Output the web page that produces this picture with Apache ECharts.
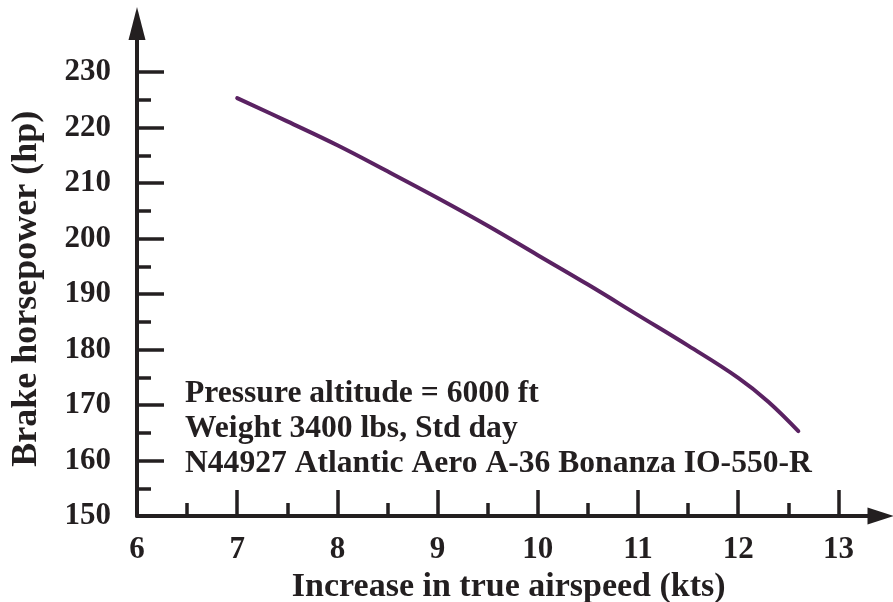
<!DOCTYPE html>
<html>
<head>
<meta charset="utf-8">
<script src="https://cdn.jsdelivr.net/npm/echarts@6/dist/echarts.min.js"></script>
<style>html,body{margin:0;padding:0;background:#fff}#c{width:893px;height:602px}</style>
</head>
<body>
<div id="c"></div>
<script>
var airspeed = [7.0, 7.5, 8.0, 8.5, 9.0, 9.5, 10.0, 10.5, 11.0, 11.5, 12.0, 12.3, 12.6];
var horsepower = [225.3, 221.1, 216.8, 212.1, 207.3, 202.3, 197.0, 191.7, 186.2, 180.7, 174.9, 170.6, 165.3];
var xMajorTicks = [6, 7, 8, 9, 10, 11, 12, 13];
var xMinorTicks = [6.5, 7.5, 8.5, 9.5, 10.5, 11.5, 12.5];
var yMajorTicks = [150, 160, 170, 180, 190, 200, 210, 220, 230];
var yMinorTicks = [155, 165, 175, 185, 195, 205, 215, 225];
var notes = ['Pressure altitude = 6000 ft', 'Weight 3400 lbs, Std day', 'N44927 Atlantic Aero A-36 Bonanza IO-550-R'];
var xName = 'Increase in true airspeed (kts)';
var yName = 'Brake horsepower (hp)';

var ink = '#231f20';
var font = 'Liberation Serif';
var X_MIN = 6, X_MAX = 13.42, Y_MIN = 150, Y_MAX = 238.74;

var chart = echarts.init(document.getElementById('c'));
chart.setOption({
  animation: false,
  backgroundColor: '#fff',
  title: {
    text: notes.join('\n'),
    left: 180, top: 371,
    textStyle: {fontFamily: font, fontWeight: 'bold', fontSize: 31.6, lineHeight: 35, color: ink}
  },
  grid: {left: 137, right: 12.5, top: 23.5, bottom: 86, containLabel: false, outerBoundsMode: 'none'},
  xAxis: [{
    type: 'value', min: X_MIN, max: X_MAX,
    name: xName, nameLocation: 'middle', nameGap: 48,
    nameTextStyle: {fontFamily: font, fontWeight: 'bold', fontSize: 34, color: ink},
    axisLine: {show: true, symbol: ['none', 'triangle'], symbolSize: [17, 26], lineStyle: {color: ink, width: 4}},
    axisTick: {show: true, inside: true, length: 26, customValues: xMajorTicks, lineStyle: {color: ink, width: 3.5}},
    axisLabel: {customValues: xMajorTicks, margin: 18, fontFamily: font, fontWeight: 'bold', fontSize: 31, color: ink},
    splitLine: {show: false}
  }, {
    type: 'value', min: X_MIN, max: X_MAX, position: 'bottom', offset: 0,
    axisLine: {show: false},
    axisTick: {show: true, inside: true, length: 13, customValues: xMinorTicks, lineStyle: {color: ink, width: 3.5}},
    axisLabel: {show: false},
    splitLine: {show: false}
  }],
  yAxis: [{
    type: 'value', min: Y_MIN, max: Y_MAX,
    name: yName, nameLocation: 'middle', nameGap: 92,
    nameTextStyle: {fontFamily: font, fontWeight: 'bold', fontSize: 36, color: ink, padding: [0, 38, 0, 0]},
    axisLine: {show: true, symbol: ['none', 'triangle'], symbolSize: [17, 33], lineStyle: {color: ink, width: 4}},
    axisTick: {show: true, inside: true, length: 27, customValues: yMajorTicks, lineStyle: {color: ink, width: 3.5}},
    axisLabel: {customValues: yMajorTicks, margin: 26, fontFamily: font, fontWeight: 'bold', fontSize: 31, color: ink},
    splitLine: {show: false}
  }, {
    type: 'value', min: Y_MIN, max: Y_MAX, position: 'left', offset: 0,
    axisLine: {show: false},
    axisTick: {show: true, inside: true, length: 14, customValues: yMinorTicks, lineStyle: {color: ink, width: 3.5}},
    axisLabel: {show: false},
    splitLine: {show: false}
  }],
  series: [{
    type: 'line', xAxisIndex: 0, yAxisIndex: 0,
    data: airspeed.map(function (x, i) { return [x, horsepower[i]]; }),
    smooth: 0.4, showSymbol: false, symbol: 'none',
    lineStyle: {color: '#5a2262', width: 4, cap: 'round'}
  }]
});
</script>
</body>
</html>
